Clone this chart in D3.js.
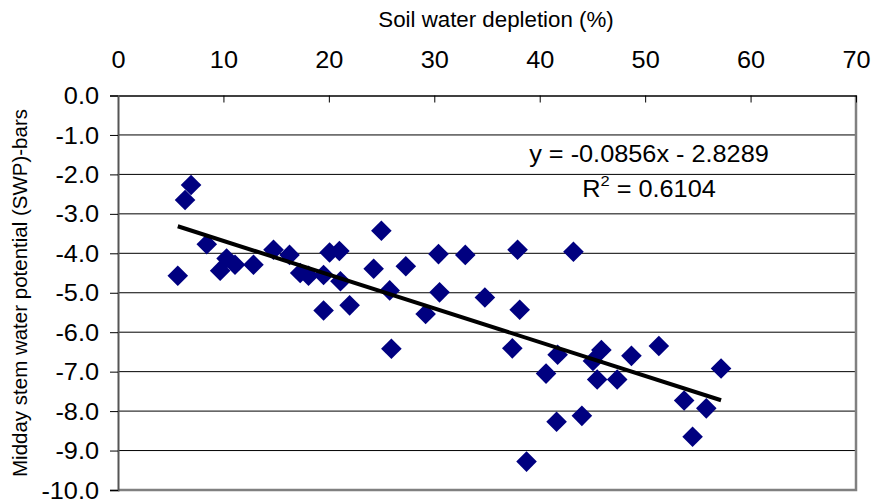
<!DOCTYPE html>
<html>
<head>
<meta charset="utf-8">
<script src="https://d3js.org/d3.v7.min.js"></script>
<style>
  body { margin: 0; background: #fff; }
  text { font-family: "Liberation Sans", Arial, sans-serif; fill: #000; }
</style>
</head>
<body>
<script>
// depletion (%) and midday SWP (bars)
var depletion = [5.67, 6.36, 6.93, 8.42, 9.69, 10.3, 11.1, 12.85, 14.75, 16.27, 17.28, 18.07,
  19.5, 20.07, 21.0, 21.1, 19.5, 21.97, 24.25, 24.98, 25.77, 25.93, 27.3, 29.18, 30.4, 30.5,
  32.94, 34.8, 37.4, 37.9, 38.1, 38.75, 40.6, 41.6, 41.7, 43.2, 44.0, 45.05, 45.45, 45.85,
  47.35, 48.7, 51.3, 53.7, 54.5, 55.8, 57.2];
var swp = [-4.57, -2.65, -2.27, -3.77, -4.44, -4.13, -4.29, -4.29, -3.91, -4.04, -4.50, -4.57,
  -4.55, -3.98, -3.94, -4.71, -5.45, -5.32, -4.39, -3.43, -4.94, -6.42, -4.33, -5.54, -4.02, -4.99,
  -4.04, -5.12, -6.41, -3.91, -5.43, -9.28, -7.05, -8.27, -6.57, -3.96, -8.12, -6.73, -7.2, -6.45,
  -7.2, -6.6, -6.35, -7.73, -8.65, -7.93, -6.92];
var xTicks = [0, 10, 20, 30, 40, 50, 60, 70];
var yTicks = [0, -1, -2, -3, -4, -5, -6, -7, -8, -9, -10];
var slope = -0.0856, intercept = -2.8289;
var eqText = "y = -0.0856x - 2.8289";
var r2Value = "0.6104";

var width = 872, height = 501;
var pL = 118, pR = 856, pT = 95.5, pB = 490;
var sx = 1.1; // numbers in the original are drawn a bit wide

var svg = d3.select("body").append("svg")
  .attr("width", width)
  .attr("height", height);

var x = d3.scaleLinear().domain([0, 70]).range([pL, pR]);
var y = d3.scaleLinear().domain([-10, 0]).range([pB, pT]);

// gridlines
svg.append("g").selectAll("line")
  .data(yTicks.filter(function(d) { return d > -10 && d < 0; }))
  .enter().append("line")
  .attr("x1", pL).attr("x2", pR)
  .attr("y1", function(d) { return y(d); })
  .attr("y2", function(d) { return y(d); })
  .attr("stroke", "#000").attr("stroke-width", 1);

// plot border (right / bottom gray)
svg.append("path")
  .attr("d", "M" + pR + "," + pT + "V" + pB + "H" + pL)
  .attr("fill", "none").attr("stroke", "#808080").attr("stroke-width", 2.5);

// top axis
var xAxis = svg.append("g")
  .attr("transform", "translate(0," + pT + ")")
  .call(d3.axisTop(x).tickValues(xTicks).tickSizeInner(-7).tickSizeOuter(0));
xAxis.select(".domain").attr("stroke", "#000").attr("stroke-width", 1.5);
xAxis.selectAll(".tick line").attr("stroke", "#000");
xAxis.selectAll(".tick text").remove();
xAxis.selectAll(".tick").append("text")
  .attr("transform", "translate(0,-28) scale(" + sx + ",1)")
  .attr("text-anchor", "middle")
  .attr("font-size", 23)
  .text(function(d) { return d; });

// left axis
var yAxis = svg.append("g")
  .attr("transform", "translate(" + pL + ",0)")
  .call(d3.axisLeft(y).tickValues(yTicks).tickSize(8));
yAxis.select(".domain").attr("stroke", "#555").attr("stroke-width", 2);
yAxis.selectAll(".tick line").attr("stroke", "#000");
yAxis.selectAll(".tick text").remove();
yAxis.selectAll(".tick").append("text")
  .attr("transform", "translate(-19,0) scale(" + sx + ",1)")
  .attr("dy", "0.35em")
  .attr("text-anchor", "end")
  .attr("font-size", 23)
  .text(function(d) { return d3.format(".1f")(d).replace("\u2212", "-"); });

// points
var pts = depletion.map(function(d, i) { return [d, swp[i]]; });
svg.append("g").selectAll("path")
  .data(pts)
  .enter().append("path")
  .attr("d", "M0,-10.3L10.3,0L0,10.3L-10.3,0Z")
  .attr("fill", "#000080")
  .attr("transform", function(d) { return "translate(" + x(d[0]) + "," + y(d[1]) + ")"; });

// trendline
var x0 = d3.min(depletion), x1 = d3.max(depletion);
svg.append("line")
  .attr("x1", x(x0)).attr("y1", y(slope * x0 + intercept))
  .attr("x2", x(x1)).attr("y2", y(slope * x1 + intercept))
  .attr("stroke", "#000").attr("stroke-width", 4);

// equation
svg.append("text")
  .attr("transform", "translate(649,162) scale(" + sx + ",1)")
  .attr("text-anchor", "middle")
  .attr("font-size", 23)
  .text(eqText);
var r2 = svg.append("text")
  .attr("transform", "translate(649,197) scale(" + sx + ",1)")
  .attr("text-anchor", "middle")
  .attr("font-size", 23);
r2.append("tspan").text("R");
r2.append("tspan").attr("dy", -11).attr("font-size", 15).text("2");
r2.append("tspan").attr("dy", 11).text(" = " + r2Value);

// titles
svg.append("text")
  .attr("x", 496).attr("y", 27)
  .attr("text-anchor", "middle")
  .attr("font-size", 22.3)
  .text("Soil water depletion (%)");
svg.append("text")
  .attr("transform", "translate(27,293) rotate(-90)")
  .attr("text-anchor", "middle")
  .attr("font-size", 20.5)
  .text("Midday stem water potential (SWP)-bars");
</script>
</body>
</html>
